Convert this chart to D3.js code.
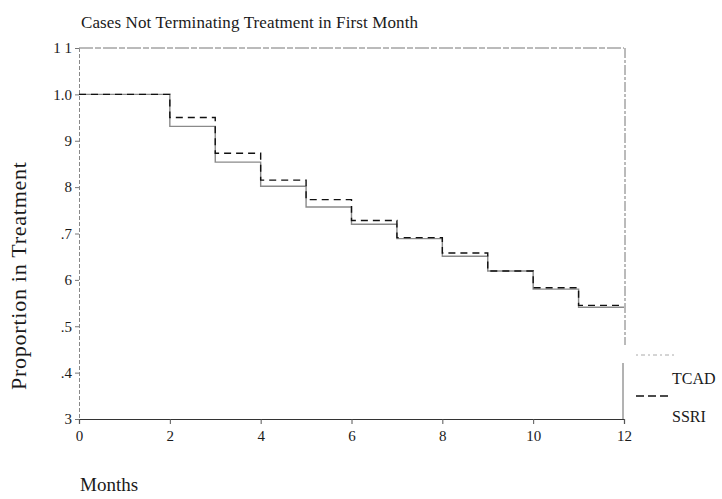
<!DOCTYPE html>
<html><head><meta charset="utf-8">
<script src="https://cdn.jsdelivr.net/npm/d3@7"></script>
<style>body{margin:0;background:#fff}svg{display:block}</style>
</head><body>
<svg id="c" width="722" height="499"></svg>
<script>
const months = [0,1,2,3,4,5,6,7,8,9,10,11,12];
const stepStarts = [0,2,3,4,5,6,7,8,9,10,11];
const tcad = [1.000,0.931,0.854,0.802,0.757,0.720,0.689,0.651,0.619,0.580,0.541];
const ssri = [1.000,0.950,0.873,0.815,0.773,0.728,0.691,0.658,0.619,0.583,0.545];
const xTicks = [0,2,4,6,8,10,12];
const yTicks = [1.1,1.0,0.9,0.8,0.7,0.6,0.5,0.4,0.3];
const yTickLabels = ["1 1","1.0","9","8",".7","6",".5",".4","3"];
const seriesNames = ["TCAD","SSRI"];
const title = "Cases Not Terminating Treatment in First Month";

const FONT = "Liberation Serif, Times New Roman, DejaVu Serif, serif";
const svg = d3.select("#c");
const x = d3.scaleLinear().domain([0,12]).range([79,624]);
const y = d3.scaleLinear().domain([0.3,1.1]).range([419,48]);

// frame top and right
svg.append("line").attr("x1",x(0)).attr("x2",x(12)).attr("y1",y(1.1)).attr("y2",y(1.1))
  .attr("stroke","#777").attr("stroke-width",1).attr("stroke-dasharray","14,2,6,2");
svg.append("line").attr("x1",x(12)+1).attr("x2",x(12)+1).attr("y1",y(1.1)).attr("y2",345)
  .attr("stroke","#777").attr("stroke-width",1).attr("stroke-dasharray","10,2,3,2");
svg.append("line").attr("x1",x(12)-1).attr("x2",x(12)-1).attr("y1",363).attr("y2",y(0.3))
  .attr("stroke","#666").attr("stroke-width",1);

// x axis
const xa = svg.append("g").attr("transform",`translate(0,${y(0.3)})`)
  .call(d3.axisBottom(x).tickValues(xTicks).tickSize(5).tickPadding(6).tickFormat(d3.format("d")));
xa.attr("font-family",FONT).attr("font-size",15);
xa.select(".domain").attr("stroke","#333").attr("stroke-width",1.2);
xa.selectAll(".tick line").attr("stroke","#555");
xa.selectAll("text").attr("font-family",FONT).attr("font-size",15).attr("fill","#1a1a1a");

// y axis
const ya = svg.append("g").attr("transform",`translate(${x(0)},0)`)
  .call(d3.axisLeft(y).tickValues(yTicks).tickSize(4).tickPadding(3)
  .tickFormat((d,i)=>yTickLabels[i]));
ya.attr("font-family",FONT).attr("font-size",15);
ya.select(".domain").attr("stroke","#888").attr("stroke-width",1).attr("stroke-dasharray","4,2");
ya.selectAll(".tick line").attr("stroke","#777");
ya.selectAll("text").attr("font-family",FONT).attr("font-size",15).attr("fill","#1a1a1a");

function stepData(vals){
  const pts = vals.map((v,i)=>[stepStarts[i],v]);
  pts.push([12, vals[vals.length-1]]);
  return pts;
}
const line = d3.line().x(d=>x(d[0])).y(d=>y(d[1])).curve(d3.curveStepAfter);

svg.append("path").datum(stepData(tcad)).attr("d",line)
  .attr("fill","none").attr("stroke","#8a8a8a").attr("stroke-width",1.4);
svg.append("path").datum(stepData(ssri)).attr("d",line)
  .attr("fill","none").attr("stroke","#111").attr("stroke-width",1.4).attr("stroke-dasharray","7,5");

function txt(sel){ return sel.attr("font-family",FONT).attr("fill","#1a1a1a"); }
// title
txt(svg.append("text")).attr("x",81).attr("y",28).attr("font-size",17)
  .attr("textLength",337).attr("lengthAdjust","spacing").text(title);

// axis labels
txt(svg.append("text")).attr("transform","translate(26,276) rotate(-90)").attr("text-anchor","middle")
  .attr("font-size",22).attr("textLength",228).attr("lengthAdjust","spacing").text("Proportion in Treatment");
txt(svg.append("text")).attr("x",80).attr("y",491).attr("font-size",19).text("Months");

// legend
const lg = svg.append("g");
lg.append("line").attr("x1",636).attr("x2",674).attr("y1",355).attr("y2",355)
  .attr("stroke","#aaa").attr("stroke-width",1).attr("stroke-dasharray","2,3,4,3");
txt(lg.append("text")).attr("x",672).attr("y",384).attr("font-size",16).text(seriesNames[0]);
lg.append("line").attr("x1",636).attr("x2",672).attr("y1",396).attr("y2",396)
  .attr("stroke","#111").attr("stroke-width",1.6).attr("stroke-dasharray","8,4");
txt(lg.append("text")).attr("x",672).attr("y",422).attr("font-size",16).text(seriesNames[1]);
</script>
</body></html>
